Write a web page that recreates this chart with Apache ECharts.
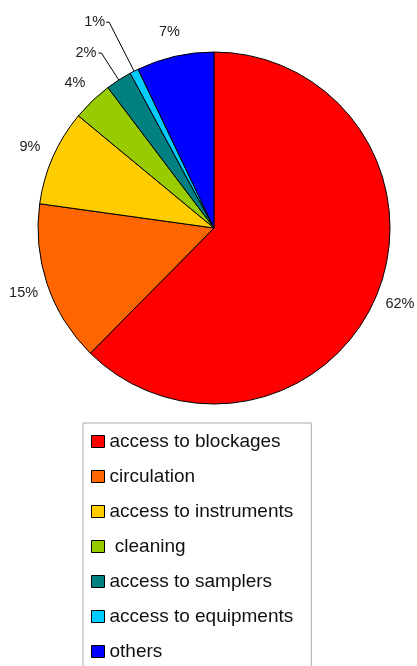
<!DOCTYPE html>
<html>
<head>
<meta charset="utf-8">
<script src="https://cdn.jsdelivr.net/npm/echarts@6/dist/echarts.min.js"></script>
<style>
html,body{margin:0;padding:0;background:#fff;}
#chart{width:417px;height:666px;}
</style>
</head>
<body>
<div id="chart"></div>
<script>
var categories = ['access to blockages', 'circulation', 'access to instruments', ' cleaning', 'access to samplers', 'access to equipments', 'others'];
var values = [62.4, 14.8, 8.8, 3.7, 2.4, 0.8, 7.1];
var colors = ['#ff0000', '#ff6600', '#ffcc00', '#99cc00', '#008080', '#00ccff', '#0000ff'];
var showLine = [false, false, false, false, true, true, false];

var chart = echarts.init(document.getElementById('chart'), null, {renderer: 'canvas'});
var data = categories.map(function (name, i) {
  var item = {
    name: name,
    value: values[i],
    itemStyle: {color: colors[i]}
  };
  if (showLine[i]) {
    item.labelLine = {show: true, length: i === 4 ? 32 : 55, length2: i === 4 ? 3 : 3};
    item.label = {distanceToLabelLine: i === 4 ? 2 : 1};
  }
  return item;
});

chart.setOption({
  animation: false,
  backgroundColor: '#fff',
  legend: {
    orient: 'vertical',
    left: 83,
    top: 423,
    height: 400,
    padding: [9, 18, 12, 8],
    borderColor: '#aaaaaa',
    borderWidth: 1,
    itemWidth: 13,
    itemHeight: 12,
    itemGap: 16,
    icon: 'rect',
    selectedMode: false,
    itemStyle: {borderColor: '#000', borderWidth: 1},
    textStyle: {fontFamily: 'Liberation Sans, Arial, sans-serif', fontSize: 19, lineHeight: 19, color: '#111'},
    data: categories
  },
  series: [{
    type: 'pie',
    center: [214, 228],
    radius: 176,
    startAngle: 90,
    clockwise: true,
    avoidLabelOverlap: false,
    itemStyle: {borderColor: '#000', borderWidth: 1},
    label: {
      show: true,
      position: 'outside',
      fontFamily: 'Liberation Sans, Arial, sans-serif',
      fontSize: 14.5,
      color: '#222',
      distanceToLabelLine: 0,
      formatter: function (p) { return Math.round(p.value) + '%'; }
    },
    labelLine: {show: false, length: 25, length2: 0, lineStyle: {color: '#000', width: 1}},
    labelLayout: function (p) {
      if (showLine[p.dataIndex]) { return {}; }
      return {align: 'center', verticalAlign: 'middle'};
    },
    emphasis: {disabled: true},
    data: data
  }]
});
</script>
</body>
</html>
